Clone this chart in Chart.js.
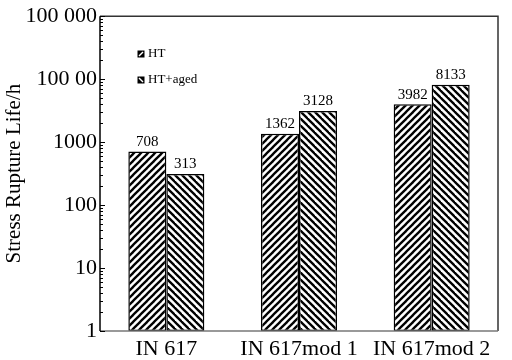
<!DOCTYPE html>
<html>
<head>
<meta charset="utf-8">
<script src="https://cdn.jsdelivr.net/npm/chart.js@4"></script>
<style>html,body{margin:0;padding:0;background:#fff}</style>
</head>
<body>
<canvas id="rupture-chart" width="512" height="360"></canvas>
<script>
const categories = ['IN 617', 'IN 617mod 1', 'IN 617mod 2'];
const seriesNames = ['HT', 'HT+aged'];
const htValues = [708, 1362, 3982];
const agedValues = [313, 3128, 8133];
const tickValues = [1, 10, 100, 1000, 10000, 100000];
const tickLabels = ['1', '10', '100', '1000', '100 00', '100 000'];
const FONT = '"Liberation Serif", "Times New Roman", serif';

// diagonal hatch, dir 1 = "///", dir -1 = "\\\"
function hatch(dir) {
    const s = 7;
    const c = document.createElement('canvas');
    c.width = s; c.height = s;
    const g = c.getContext('2d');
    g.fillStyle = '#fff';
    g.fillRect(0, 0, s, s);
    g.strokeStyle = '#000';
    g.lineWidth = 2.3;
    for (let k = -1; k <= 1; k++) {
        g.beginPath();
        if (dir > 0) { g.moveTo(k * s - 1, s + 1); g.lineTo(k * s + s + 1, -1); }
        else { g.moveTo(k * s - 1, -1); g.lineTo(k * s + s + 1, s + 1); }
        g.stroke();
    }
    return g.createPattern(c, 'repeat');
}

const frame = {
    id: 'frame',
    afterDraw(chart) {
        const { ctx, chartArea: a } = chart;
        const y = chart.scales.y;
        ctx.save();
        ctx.lineWidth = 1.5;
        ctx.strokeStyle = '#333';
        ctx.beginPath();
        ctx.moveTo(a.left, a.top); ctx.lineTo(a.right, a.top); ctx.lineTo(a.right, a.bottom);
        ctx.stroke();
        ctx.strokeStyle = '#777';
        ctx.beginPath();
        ctx.moveTo(a.left, a.bottom); ctx.lineTo(a.right, a.bottom);
        ctx.stroke();
        ctx.strokeStyle = '#000';
        ctx.beginPath();
        ctx.moveTo(a.left, a.top); ctx.lineTo(a.left, a.bottom);
        ctx.stroke();
        // inward major + minor ticks on the left axis
        ctx.lineWidth = 1;
        tickValues.forEach(v => {
            for (let m = 1; m <= 9; m++) {
                const val = v * m;
                if (val > y.max) break;
                const py = Math.round(y.getPixelForValue(val)) + 0.5;
                ctx.beginPath();
                ctx.moveTo(a.left, py);
                ctx.lineTo(a.left + (m === 1 ? 5 : 3), py);
                ctx.stroke();
            }
        });
        ctx.restore();
    }
};

const valueLabels = {
    id: 'valueLabels',
    afterDatasetsDraw(chart) {
        const ctx = chart.ctx;
        ctx.save();
        ctx.font = '15px ' + FONT;
        ctx.fillStyle = '#000';
        ctx.textAlign = 'center';
        ctx.textBaseline = 'bottom';
        chart.data.datasets.forEach((ds, i) => {
            chart.getDatasetMeta(i).data.forEach((bar, j) => {
                ctx.fillText(String(ds.data[j]), bar.x, bar.y - 2);
            });
        });
        ctx.restore();
    }
};

const legendBox = {
    id: 'legendBox',
    afterDraw(chart) {
        const ctx = chart.ctx;
        ctx.save();
        ctx.font = '13px ' + FONT;
        ctx.textBaseline = 'middle';
        chart.data.datasets.forEach((ds, i) => {
            const x = 138, y = 51 + i * 26, s = 6;
            ctx.fillStyle = '#000';
            ctx.fillRect(x - 0.5, y - 0.5, s + 1, s + 1);
            ctx.strokeStyle = '#fff';
            ctx.lineWidth = 1.4;
            ctx.beginPath();
            if (i === 0) { ctx.moveTo(x + 1, y + s - 1); ctx.lineTo(x + s - 1, y + 1); }
            else { ctx.moveTo(x + 1, y + 1); ctx.lineTo(x + s - 1, y + s - 1); }
            ctx.stroke();
            ctx.fillStyle = '#000';
            ctx.fillText(ds.label, x + 10, y + 3);
        });
        ctx.restore();
    }
};

const ctx = document.getElementById('rupture-chart').getContext('2d');
new Chart(ctx, {
    type: 'bar',
    data: {
        labels: categories,
        datasets: [{
            label: seriesNames[0],
            data: htValues,
            backgroundColor: hatch(1),
            borderColor: '#000',
            borderWidth: 1.5,
            borderSkipped: false,
            categoryPercentage: 0.573,
            barPercentage: 1
        }, {
            label: seriesNames[1],
            data: agedValues,
            backgroundColor: hatch(-1),
            borderColor: '#000',
            borderWidth: 1.5,
            borderSkipped: false,
            categoryPercentage: 0.573,
            barPercentage: 1
        }]
    },
    options: {
        responsive: false,
        animation: false,
        layout: { padding: { top: 12, right: 14, left: 0, bottom: 0 } },
        plugins: {
            legend: { display: false },
            tooltip: { enabled: false }
        },
        scales: {
            x: {
                grid: { display: false, drawTicks: false },
                border: { display: false },
                ticks: {
                    color: '#000',
                    font: { family: FONT, size: 22 },
                    padding: 5,
                    maxRotation: 0,
                    autoSkip: false
                },
                afterFit(s) { s.height = 29; }
            },
            y: {
                type: 'logarithmic',
                min: 1,
                max: 100000,
                grid: { display: false, drawTicks: false },
                border: { display: false },
                afterBuildTicks(s) { s.ticks = tickValues.map(v => ({ value: v })); },
                ticks: {
                    color: '#000',
                    font: { family: FONT, size: 22 },
                    padding: 3,
                    callback: v => tickLabels[tickValues.indexOf(v)]
                },
                title: {
                    display: true,
                    text: 'Stress Rupture Life/h',
                    color: '#000',
                    font: { family: FONT, size: 21 },
                    padding: { top: 2, bottom: 0 }
                },
                afterFit(s) { s.width = 100; }
            }
        }
    },
    plugins: [frame, valueLabels, legendBox]
});
</script>
</body>
</html>
